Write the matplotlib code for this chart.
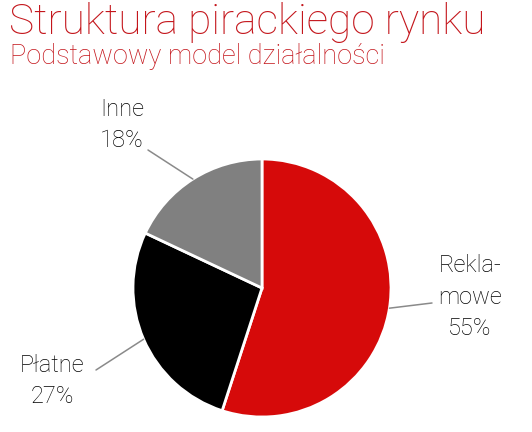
import numpy as np
import matplotlib.pyplot as plt

# Data
categories = ["Rekla-\nmowe", "Płatne", "Inne"]
shares = [55, 27, 18]
colors = ["#d60a0a", "#000000", "#808080"]

title = "Struktura pirackiego rynku"
subtitle = "Podstawowy model działalności"
title_color = "#c4161c"

# label text positions and leader-line ends, in figure pixels (from top-left)
label_pos = [(470, 297), (52, 381), (122, 125)]
line_end = [(432, 303), (96, 370), (148, 150)]

W, H = 532, 432
fig = plt.figure(figsize=(W / 100, H / 100), dpi=100)

# title and subtitle
fig.text(9 / W, 1 - 2 / H, title, fontsize=30.5, color=title_color,
         family="Roboto", fontweight="light", ha="left", va="top")
fig.text(10 / W, 1 - 43 / H, subtitle, fontsize=19.5, color=title_color,
         family="Roboto", fontweight="light", ha="left", va="top")

# pie: centre ~ (262, 288), radius ~ 129 px
cx, cy, r = 262, 288, 129
ax = fig.add_axes([(cx - r) / W, (H - cy - r) / H, 2 * r / W, 2 * r / H])
wedges, _ = ax.pie(shares, colors=colors, startangle=90, counterclock=False,
                   wedgeprops=dict(edgecolor="white", linewidth=2))
ax.set_xlim(-1, 1)
ax.set_ylim(-1, 1)
ax.set_aspect("equal")
ax.axis("off")

for w, cat, val, (lx, ly), (ex, ey) in zip(wedges, categories, shares, label_pos, line_end):
    ang = np.deg2rad((w.theta1 + w.theta2) / 2)
    ax.annotate("", xy=(np.cos(ang), np.sin(ang)), xycoords="data",
                xytext=(ex, H - ey), textcoords="figure pixels",
                arrowprops=dict(arrowstyle="-", color="#8a8a8a", lw=1.1,
                                shrinkA=0, shrinkB=0))
    fig.text(lx / W, 1 - ly / H, f"{cat}\n{val}%", fontsize=17,
             family="Roboto", fontweight="light", color="#000000",
             ha="center", va="center", linespacing=1.45)

fig.savefig("out.png", dpi=100)
